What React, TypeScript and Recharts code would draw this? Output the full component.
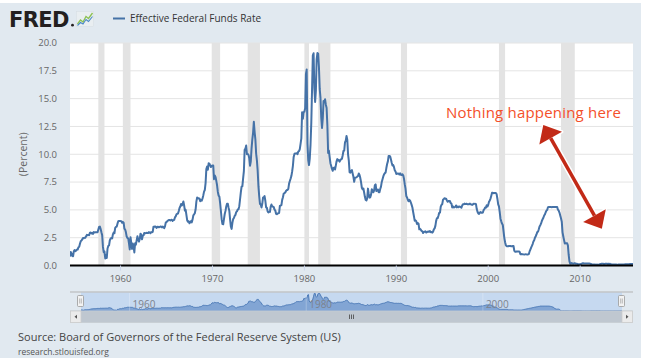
import React from "react";
import {
  LineChart,
  Line,
  AreaChart,
  Area,
  XAxis,
  YAxis,
  CartesianGrid,
  ReferenceArea,
  ReferenceLine,
} from "recharts";

// Effective Federal Funds Rate, monthly (percent)
const rates1950s = [
  0.8, 1.22, 1.07, 0.85, 0.83, 1.28,
  1.39, 1.29, 1.35, 1.43, 1.43, 1.64, 1.68, 1.96, 2.18, 2.24, 2.35, 2.48,
  2.45, 2.5, 2.5, 2.62, 2.75, 2.71, 2.75, 2.73, 2.95, 2.96, 2.88, 2.94,
  2.84, 3.0, 2.96, 3.0, 3.0, 3.0, 2.99, 3.24, 3.47, 3.5, 3.28, 2.98,
  2.72, 1.67, 1.2, 1.26, 0.63, 0.93, 0.68, 1.53, 1.76, 1.8, 2.27, 2.42,
  2.48, 2.43, 2.8, 2.96, 2.9, 3.39, 3.47, 3.5, 3.76, 3.98, 4.0, 3.99,
];
const rates1960s = [
  3.99, 3.97, 3.84, 3.92, 3.85, 3.32, 3.23, 2.98, 2.6, 2.47, 2.44, 1.98,
  1.45, 2.54, 2.02, 1.49, 1.98, 1.73, 1.17, 2.0, 1.88, 2.26, 2.62, 2.33,
  2.15, 2.37, 2.85, 2.78, 2.36, 2.68, 2.71, 2.93, 2.9, 2.9, 2.94, 2.93,
  2.92, 3.0, 2.98, 2.9, 3.0, 2.99, 3.02, 3.49, 3.48, 3.5, 3.48, 3.38,
  3.48, 3.48, 3.43, 3.47, 3.5, 3.5, 3.42, 3.5, 3.45, 3.36, 3.52, 3.85,
  3.9, 3.98, 4.04, 4.09, 4.1, 4.04, 4.09, 4.12, 4.01, 4.08, 4.1, 4.32,
  4.42, 4.6, 4.65, 4.67, 4.9, 5.17, 5.3, 5.53, 5.4, 5.53, 5.76, 5.4,
  4.94, 5.0, 4.53, 4.05, 3.94, 3.98, 3.79, 3.9, 3.99, 3.88, 4.13, 4.51,
  4.6, 4.71, 5.05, 5.76, 6.11, 6.07, 6.02, 6.03, 5.78, 5.91, 5.82, 6.02,
  6.3, 6.64, 6.79, 7.41, 8.67, 8.9, 8.61, 9.19, 9.15, 9.0, 8.85, 8.97,
];
const rates1970s = [
  8.98, 8.98, 7.76, 8.1, 7.95, 7.61, 7.21, 6.61, 6.29, 6.2, 5.6, 4.9,
  4.14, 3.72, 3.71, 4.16, 4.63, 4.91, 5.31, 5.56, 5.55, 5.2, 4.91, 4.14,
  3.5, 3.29, 3.83, 4.17, 4.27, 4.46, 4.55, 4.8, 4.87, 5.04, 5.06, 5.33,
  5.94, 6.58, 7.09, 7.12, 7.84, 8.49, 10.4, 10.5, 10.78, 10.01, 10.03, 9.95,
  9.65, 8.97, 9.35, 10.51, 11.31, 11.93, 12.92, 12.01, 11.34, 10.06, 9.45, 8.53,
  7.13, 6.24, 5.54, 5.49, 5.22, 5.55, 6.1, 6.14, 6.24, 5.82, 5.22, 5.2,
  4.87, 4.77, 4.84, 4.82, 5.29, 5.48, 5.31, 5.29, 5.25, 5.02, 4.95, 4.65,
  4.61, 4.68, 4.69, 4.73, 5.35, 5.39, 5.42, 5.9, 6.14, 6.47, 6.51, 6.56,
  6.7, 6.78, 6.79, 6.89, 7.36, 7.6, 7.81, 8.04, 8.45, 8.96, 9.76, 10.03,
  10.07, 10.06, 10.09, 10.01, 10.24, 10.29, 10.47, 10.94, 11.43, 13.77, 13.18, 13.78,
];
const rates1980s = [
  13.82, 14.13, 17.19, 17.61, 10.98, 9.47, 9.03, 9.61, 10.87, 12.81, 15.85, 18.9,
  19.08, 15.93, 14.7, 15.72, 18.52, 19.1, 19.04, 17.82, 15.87, 15.08, 13.31, 12.37,
  13.22, 14.78, 14.68, 14.94, 14.45, 14.15, 12.59, 10.12, 10.31, 9.71, 9.2, 8.95,
  8.68, 8.51, 8.77, 8.8, 8.63, 8.98, 9.37, 9.56, 9.45, 9.48, 9.34, 9.47,
  9.56, 9.59, 9.91, 10.29, 10.32, 11.06, 11.23, 11.64, 11.3, 9.99, 9.43, 8.38,
  8.35, 8.5, 8.58, 8.27, 7.97, 7.53, 7.88, 7.9, 7.92, 7.99, 8.05, 8.27,
  8.14, 7.86, 7.48, 6.99, 6.85, 6.92, 6.56, 6.17, 5.89, 5.85, 6.04, 6.91,
  6.43, 6.1, 6.13, 6.37, 6.85, 6.73, 6.58, 6.73, 7.22, 7.29, 6.69, 6.77,
  6.83, 6.58, 6.58, 6.87, 7.09, 7.51, 7.75, 8.01, 8.19, 8.3, 8.35, 8.76,
  9.12, 9.36, 9.85, 9.84, 9.81, 9.53, 9.24, 8.99, 9.02, 8.84, 8.55, 8.45,
];
const rates1990s = [
  8.23, 8.24, 8.28, 8.26, 8.18, 8.29, 8.15, 8.13, 8.2, 8.11, 7.81, 7.31,
  6.91, 6.25, 6.12, 5.91, 5.78, 5.9, 5.82, 5.66, 5.45, 5.21, 4.81, 4.43,
  4.03, 4.06, 3.98, 3.73, 3.82, 3.76, 3.25, 3.3, 3.22, 3.1, 3.09, 2.92,
  3.02, 3.03, 3.07, 2.96, 3.0, 3.04, 3.06, 3.03, 3.09, 2.99, 3.02, 2.96,
  3.05, 3.25, 3.34, 3.56, 4.01, 4.25, 4.26, 4.47, 4.73, 4.76, 5.29, 5.45,
  5.53, 5.92, 5.98, 6.05, 6.01, 6.0, 5.85, 5.74, 5.8, 5.76, 5.8, 5.6,
  5.56, 5.22, 5.31, 5.22, 5.24, 5.27, 5.4, 5.22, 5.3, 5.24, 5.31, 5.29,
  5.25, 5.19, 5.39, 5.51, 5.5, 5.56, 5.52, 5.54, 5.54, 5.5, 5.52, 5.5,
  5.56, 5.51, 5.49, 5.45, 5.49, 5.56, 5.54, 5.55, 5.51, 5.07, 4.83, 4.68,
  4.63, 4.76, 4.81, 4.74, 4.74, 4.76, 4.99, 5.07, 5.22, 5.2, 5.42, 5.3,
];
const rates2000s = [
  5.45, 5.73, 5.85, 6.02, 6.27, 6.53, 6.54, 6.5, 6.52, 6.51, 6.51, 6.4,
  5.98, 5.49, 5.31, 4.8, 4.21, 3.97, 3.77, 3.65, 3.07, 2.49, 2.09, 1.82,
  1.73, 1.74, 1.73, 1.75, 1.75, 1.75, 1.73, 1.74, 1.75, 1.75, 1.34, 1.24,
  1.24, 1.26, 1.25, 1.26, 1.26, 1.22, 1.01, 1.03, 1.01, 1.01, 1.0, 0.98,
  1.0, 1.01, 1.0, 1.0, 1.0, 1.03, 1.26, 1.43, 1.61, 1.76, 1.93, 2.16,
  2.28, 2.5, 2.63, 2.79, 3.0, 3.04, 3.26, 3.5, 3.62, 3.78, 4.0, 4.16,
  4.29, 4.49, 4.59, 4.79, 4.94, 4.99, 5.24, 5.25, 5.25, 5.25, 5.25, 5.24,
  5.25, 5.26, 5.26, 5.25, 5.25, 5.25, 5.26, 5.02, 4.94, 4.76, 4.49, 4.24,
  3.94, 2.98, 2.61, 2.28, 1.98, 2.0, 2.01, 2.0, 1.81, 0.97, 0.39, 0.16,
  0.15, 0.22, 0.18, 0.15, 0.18, 0.21, 0.16, 0.16, 0.15, 0.12, 0.12, 0.12,
];
const rates2010s = [
  0.11, 0.13, 0.16, 0.2, 0.2, 0.18, 0.18, 0.19, 0.19, 0.19, 0.19, 0.18,
  0.17, 0.16, 0.14, 0.1, 0.09, 0.09, 0.07, 0.1, 0.08, 0.07, 0.08, 0.07,
  0.08, 0.1, 0.13, 0.14, 0.16, 0.16, 0.16, 0.13, 0.14, 0.16, 0.16, 0.16,
  0.14, 0.15, 0.14, 0.15, 0.11, 0.09, 0.09, 0.08, 0.08, 0.09, 0.08, 0.09,
  0.07, 0.07, 0.08, 0.09, 0.09, 0.1, 0.09, 0.09, 0.09, 0.09, 0.09, 0.12,
  0.11, 0.11, 0.11, 0.12, 0.12, 0.13, 0.13, 0.14, 0.14, 0.12,
];
const seriesStarts = ["1954-07", "1960-01", "1970-01", "1980-01", "1990-01", "2000-01", "2010-01"];
const seriesBlocks = [rates1950s, rates1960s, rates1970s, rates1980s, rates1990s, rates2000s, rates2010s];

const recessionStarts = ["1957-08", "1960-04", "1969-12", "1973-11", "1980-01", "1981-07", "1990-07", "2001-03", "2007-12"];
const recessionEnds = ["1958-04", "1961-02", "1970-11", "1975-03", "1980-07", "1982-11", "1991-03", "2001-11", "2009-06"];

const xDomain = ["1954-07", "2015-10"];
const xTicks = [1960, 1970, 1980, 1990, 2000, 2010];
const navTicks = [1960, 1980, 2000];
const yTicks = [0, 2.5, 5, 7.5, 10, 12.5, 15, 17.5, 20];
const navYMax = 19.3;

const seriesName = "Effective Federal Funds Rate";
const axisTitle = "(Percent)";
const annotationText = "Nothing happening here";
const annotationArrow = [
  { x: 2005.99, y: 12.63 },
  { x: 2012.36, y: 3.31 },
];
const sourceText = "Source: Board of Governors of the Federal Reserve System (US)";
const siteText = "research.stlouisfed.org";

const toYear = (s: string) => {
  const [y, m] = s.split("-").map(Number);
  return y + (m - 1) / 12;
};

const data = seriesBlocks.flatMap((vals, b) => {
  const start = toYear(seriesStarts[b]);
  return vals.map((v, i) => ({ t: start + i / 12, v }));
});
const domainX: [number, number] = [toYear(xDomain[0]), toYear(xDomain[1])];

const FONT = "'Open Sans', 'DejaVu Sans', sans-serif";

const ArrowShape = (p: any) => {
  const { x1, y1, x2, y2 } = p;
  const dx = x2 - x1;
  const dy = y2 - y1;
  const L = Math.hypot(dx, dy) || 1;
  const ux = dx / L;
  const uy = dy / L;
  const nx = -uy;
  const ny = ux;
  const hl = 15;
  const hw = 13;
  const b1x = x1 + ux * hl, b1y = y1 + uy * hl;
  const b2x = x2 - ux * hl, b2y = y2 - uy * hl;
  const head1 = `${x1},${y1} ${b1x + nx * hw},${b1y + ny * hw} ${b1x - nx * hw},${b1y - ny * hw}`;
  const head2 = `${x2},${y2} ${b2x + nx * hw},${b2y + ny * hw} ${b2x - nx * hw},${b2y - ny * hw}`;
  return (
    <g>
      <line x1={b1x} y1={b1y} x2={b2x} y2={b2y} stroke="#fff" strokeWidth={6.5} />
      <polygon points={head1} fill="#fff" stroke="#fff" strokeWidth={3} strokeLinejoin="round" />
      <polygon points={head2} fill="#fff" stroke="#fff" strokeWidth={3} strokeLinejoin="round" />
      <line x1={b1x} y1={b1y} x2={b2x} y2={b2y} stroke="#c22a17" strokeWidth={3.5} />
      <polygon points={head1} fill="#c22a17" />
      <polygon points={head2} fill="#c22a17" />
    </g>
  );
};

const PercentLabel = (p: any) => {
  const vb = p.viewBox || { x: 0, y: 43, width: 70, height: 222 };
  const cx = vb.x + 23;
  const cy = vb.y + vb.height / 2;
  return (
    <text
      x={cx}
      y={cy}
      transform={`rotate(-90 ${cx} ${cy})`}
      textAnchor="middle"
      dominantBaseline="central"
      fontSize={10.5}
      fill="#666"
      fontFamily={FONT}
    >
      {axisTitle}
    </text>
  );
};

const navLabel = (value: number) => (p: any) => {
  const vb = p.viewBox || { x: 0, y: 0, height: 18 };
  return (
    <text x={vb.x + 3} y={vb.y + vb.height - 3.5} fontSize={10} fill="#7d828c" fontFamily={FONT}>
      {value}
    </text>
  );
};

export default function App() {
  return (
    <div style={{ position: "relative", width: 650, height: 358, background: "#fff", overflow: "hidden" }}>
      <style>{"body{margin:0}"}</style>
      <div style={{ position: "absolute", left: 0, top: 3, width: 641, height: 355, background: "#e1e9f0" }} />

      {/* header: logo + legend */}
      <svg style={{ position: "absolute", left: 0, top: 0 }} width={650} height={40}>
        <text x={9} y={26.7} fontFamily="'DejaVu Sans', sans-serif" fontWeight={700} fontSize={21} fill="#231f20" letterSpacing={-0.6}>
          FRED
        </text>
        <circle cx={72.5} cy={25.2} r={1.4} fill="#231f20" />
        <rect x={76.5} y={11.5} width={17} height={15} fill="#e9eef1" stroke="#d6dde2" strokeWidth={0.5} />
        <polyline points="77.5,24 80.5,20 83,22 86,16.5 88.5,18.5 92.5,13" fill="none" stroke="#8cc152" strokeWidth={1.3} />
        <polyline points="77.5,25.5 80.5,22.5 83,24 86,19.5 88.5,21.5 92.5,16.5" fill="none" stroke="#4a89c8" strokeWidth={1.1} />
        <line x1={113} y1={18.5} x2={125} y2={18.5} stroke="#4572a7" strokeWidth={2} />
        <text x={130} y={22} fontFamily={FONT} fontSize={10} fill="#333">
          {seriesName}
        </text>
      </svg>

      {/* main chart */}
      <div style={{ position: "absolute", left: 0, top: 0 }}>
        <LineChart width={650} height={290} data={data} margin={{ top: 43, right: 17, left: 0, bottom: 0 }}>
          <CartesianGrid vertical={false} stroke="#e4e4e4" fill="#fff" fillOpacity={1} />
          {recessionStarts.map((s, i) => (
            <ReferenceArea
              key={s}
              x1={toYear(s)}
              x2={toYear(recessionEnds[i])}
              y1={0}
              y2={20}
              fill="#e3e3e3"
              fillOpacity={1}
              stroke="none"
              ifOverflow="hidden"
            />
          ))}
          <XAxis
            type="number"
            dataKey="t"
            domain={domainX}
            allowDataOverflow
            ticks={xTicks}
            height={24.5}
            axisLine={{ stroke: "#000", strokeWidth: 2 }}
            tickLine={{ stroke: "#ccd6eb" }}
            tickSize={5}
            tickMargin={5}
            tick={{ fontSize: 9.5, fill: "#666", fontFamily: FONT }}
          />
          <YAxis
            type="number"
            domain={[0, 20]}
            ticks={yTicks}
            width={70}
            axisLine={false}
            tickLine={false}
            tickSize={0}
            tickMargin={13}
            tickFormatter={(v: number) => v.toFixed(1)}
            tick={{ fontSize: 9.5, fill: "#666", fontFamily: FONT }}
            label={{ content: PercentLabel }}
          />
          <Line
            type="linear"
            dataKey="v"
            stroke="#4572a7"
            strokeWidth={2}
            dot={false}
            activeDot={false}
            isAnimationActive={false}
            strokeLinejoin="round"
          />
          <ReferenceLine segment={annotationArrow} ifOverflow="visible" shape={ArrowShape} />
        </LineChart>
      </div>

      {/* annotation text */}
      <svg style={{ position: "absolute", left: 0, top: 0, pointerEvents: "none" }} width={650} height={140}>
        <text x={446} y={117.5} fontFamily={FONT} fontSize={15} fill="#f4502a" letterSpacing={0.2}>
          {annotationText}
        </text>
      </svg>

      {/* navigator */}
      <svg style={{ position: "absolute", left: 0, top: 0 }} width={650} height={358}>
        <rect x={81} y={292.5} width={541} height={18.5} fill="#c6d9f0" />
        <line x1={70} y1={292} x2={633} y2={292} stroke="#b3b3b3" strokeWidth={1} />
      </svg>
      <div style={{ position: "absolute", left: 81, top: 293 }}>
        <AreaChart width={541} height={18} data={data} margin={{ top: 0, right: 0, left: 0, bottom: 0 }}>
          <XAxis type="number" dataKey="t" domain={domainX} allowDataOverflow hide height={0} />
          <YAxis hide domain={[0, navYMax]} width={0} />
          <Area
            type="linear"
            dataKey="v"
            stroke="#4d7bb8"
            strokeWidth={1}
            fill="#82a5d4"
            fillOpacity={1}
            dot={false}
            activeDot={false}
            isAnimationActive={false}
          />
        </AreaChart>
      </div>
      {/* navigator labels, layered above the navigator series */}
      <div style={{ position: "absolute", left: 81, top: 293 }}>
        <AreaChart
          width={541}
          height={18}
          data={data}
          margin={{ top: 0, right: 0, left: 0, bottom: 0 }}
          style={{ overflow: "visible" }}
        >
          <XAxis type="number" dataKey="t" domain={domainX} allowDataOverflow hide height={0} />
          <YAxis hide domain={[0, navYMax]} width={0} />
          <Area
            type="linear"
            dataKey="v"
            stroke="none"
            fill="none"
            dot={false}
            activeDot={false}
            isAnimationActive={false}
          />
          {navTicks.map((t) => (
            <ReferenceLine
              key={t}
              x={t}
              stroke="#ffffff"
              strokeOpacity={0.25}
              ifOverflow="visible"
              label={{ content: navLabel(t) }}
            />
          ))}
        </AreaChart>
      </div>
      <svg style={{ position: "absolute", left: 0, top: 0 }} width={650} height={358}>
        {/* handles */}
        <rect x={77.5} y={295.5} width={6} height={11} rx={1} fill="#f2f2f2" stroke="#999" strokeWidth={0.8} />
        <line x1={79.7} y1={298.5} x2={79.7} y2={303.5} stroke="#aaa" strokeWidth={0.8} />
        <line x1={81.3} y1={298.5} x2={81.3} y2={303.5} stroke="#aaa" strokeWidth={0.8} />
        <rect x={618.5} y={295.5} width={6} height={11} rx={1} fill="#f2f2f2" stroke="#999" strokeWidth={0.8} />
        <line x1={620.7} y1={298.5} x2={620.7} y2={303.5} stroke="#aaa" strokeWidth={0.8} />
        <line x1={622.3} y1={298.5} x2={622.3} y2={303.5} stroke="#aaa" strokeWidth={0.8} />
        {/* scrollbar */}
        <rect x={70.5} y={311} width={562} height={11.5} fill="#bfc7d0" stroke="#c6ccd3" strokeWidth={0.8} />
        <rect x={70.5} y={311} width={10.5} height={11.5} fill="#ebebeb" stroke="#cccccc" strokeWidth={0.8} />
        <rect x={622} y={311} width={10.5} height={11.5} fill="#ebebeb" stroke="#cccccc" strokeWidth={0.8} />
        <polygon points="74.5,316.75 77,314.75 77,318.75" fill="#555" />
        <polygon points="628.5,316.75 626,314.75 626,318.75" fill="#555" />
        <line x1={349.5} y1={314.5} x2={349.5} y2={319} stroke="#444" strokeWidth={0.8} />
        <line x1={351.5} y1={314.5} x2={351.5} y2={319} stroke="#444" strokeWidth={0.8} />
        <line x1={353.5} y1={314.5} x2={353.5} y2={319} stroke="#444" strokeWidth={0.8} />
        {/* source */}
        <text x={18} y={340.8} fontFamily={FONT} fontSize={11} fill="#444">
          {sourceText}
        </text>
        <text x={18} y={354.5} fontFamily={FONT} fontSize={8.5} fill="#555">
          {siteText}
        </text>
      </svg>
    </div>
  );
}
